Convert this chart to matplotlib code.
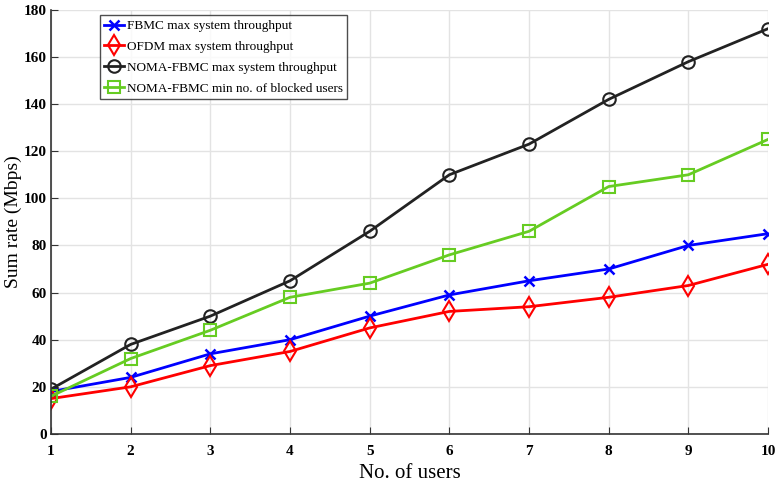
import matplotlib.pyplot as plt

users = [1, 2, 3, 4, 5, 6, 7, 8, 9, 10]
fbmc = [18, 24, 34, 40, 50, 59, 65, 70, 80, 85]
ofdm = [15, 20, 29, 35, 45, 52, 54, 58, 63, 72]
noma_max = [19, 38, 50, 65, 86, 110, 123, 142, 158, 172]
noma_blocked = [16, 32, 44, 58, 64, 76, 86, 105, 110, 125]
y_ticks = [0, 20, 40, 60, 80, 100, 120, 140, 160, 180]

plt.rcParams['font.family'] = ['Liberation Serif', 'DejaVu Serif']

fig = plt.figure(figsize=(7.76, 4.92), dpi=100)
ax = fig.add_axes([0.0657, 0.118, 0.924, 0.862])

ax.plot(users, fbmc, color='#0000ff', marker='x', ms=7, mew=1.8, lw=2,
        label='FBMC max system throughput')
ax.plot(users, ofdm, color='#ff0000', marker='d', ms=10, mfc='none', mew=1.5, lw=2,
        label='OFDM max system throughput')
ax.plot(users, noma_max, color='#222222', marker='o', ms=9, mfc='none', mew=1.5, lw=2,
        label='NOMA-FBMC max system throughput')
ax.plot(users, noma_blocked, color='#66cc22', marker='s', ms=8, mfc='none', mew=1.5, lw=2,
        label='NOMA-FBMC min no. of blocked users')

ax.set_xlim(1, 10)
ax.set_ylim(0, 180)
ax.set_xticks(users)
ax.set_yticks(y_ticks)
ax.grid(True, color='#e3e3e3', lw=1)
ax.set_axisbelow(True)
for s in ['top', 'right']:
    ax.spines[s].set_visible(False)
for s in ['left', 'bottom']:
    ax.spines[s].set_color('#333333')
    ax.spines[s].set_linewidth(1.2)
ax.tick_params(direction='in', length=5, color='#333333', labelsize=11, pad=3)
ax.tick_params(axis='x', pad=8)
for lab in ax.get_xticklabels() + ax.get_yticklabels():
    lab.set_fontweight('bold')
ax.set_xlabel('No. of users', fontsize=15, labelpad=4)
ax.set_ylabel('Sum rate (Mbps)', fontsize=14)
ax.yaxis.set_label_coords(-0.041, 0.5)

leg = ax.legend(loc='upper left', bbox_to_anchor=(0.068, 0.987), fontsize=9.5,
                frameon=True, fancybox=False, edgecolor='#222222',
                handlelength=1.5, handletextpad=0.2, borderpad=0.35, labelspacing=0.65,
                borderaxespad=0)
leg.get_frame().set_linewidth(1.0)

fig.savefig('out.png', dpi=100)
